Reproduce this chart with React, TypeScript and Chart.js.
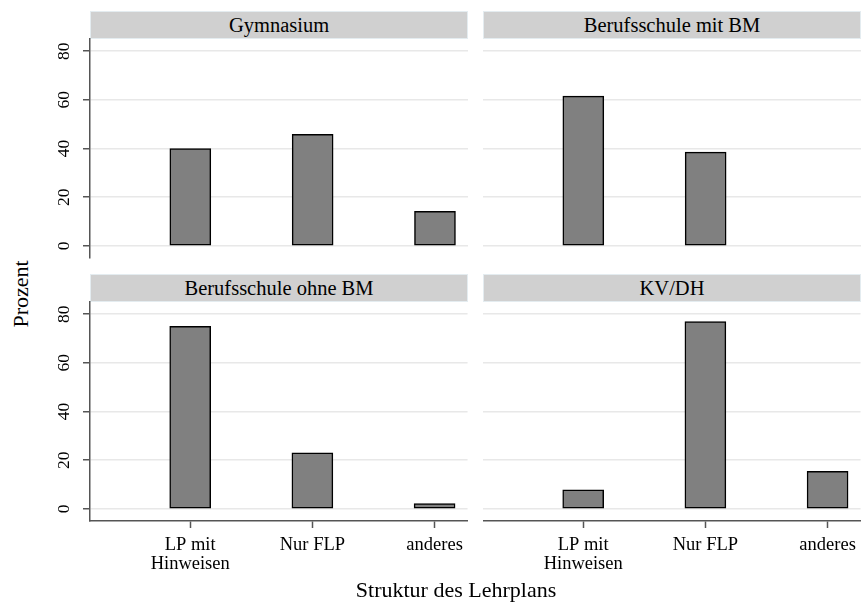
import React, { useEffect, useRef } from "react";
import { Chart, registerables } from "chart.js";

Chart.register(...registerables);

const categories: string[][] = [["LP mit", "Hinweisen"], ["Nur FLP"], ["anderes"]];
const panelTitles = ["Gymnasium", "Berufsschule mit BM", "Berufsschule ohne BM", "KV/DH"];
const gymnasium: (number | null)[] = [40, 45.8, 14.2];
const berufMitBM: (number | null)[] = [61.5, 38.5, null];
const berufOhneBM: (number | null)[] = [75, 23, 2.2];
const kvdh: (number | null)[] = [7.8, 77, 15.4];
const yTicks = [0, 20, 40, 60, 80];
const yTitle = "Prozent";
const xTitle = "Struktur des Lehrplans";

const FONT = '"Liberation Serif", "Times New Roman", serif';
const PAD = 26;

type PanelProps = {
  title: string;
  values: (number | null)[];
  showY: boolean;
  showX: boolean;
  left: number;
  top: number;
};

function Panel({ title, values, showY, showX, left, top }: PanelProps) {
  const ref = useRef<HTMLCanvasElement | null>(null);
  const canvasLeft = showY ? left - 50 : left;
  const canvasWidth = showY ? 430 : 380;
  const areaTop = top + 28;
  const canvasTop = areaTop - PAD;
  const canvasHeight = PAD + 219 + (showX ? 60 : PAD);

  useEffect(() => {
    if (!ref.current) return;
    const data = values
      .map((v, i) => (v == null ? null : { x: i + 1, y: v }))
      .filter((d) => d !== null) as { x: number; y: number }[];
    const chart = new Chart(ref.current, {
      type: "bar",
      data: {
        datasets: [
          {
            data: data as any,
            backgroundColor: "#808080",
            borderColor: "#000000",
            borderWidth: 1.5,
            borderSkipped: false,
            barThickness: 41,
          } as any,
        ],
      },
      options: {
        animation: false,
        responsive: false,
        maintainAspectRatio: false,
        events: [],
        layout: { padding: { top: PAD, bottom: showX ? 0 : PAD, left: 0, right: 2 } },
        plugins: {
          legend: { display: false },
          tooltip: { enabled: false },
          title: { display: false },
        },
        scales: {
          x: {
            type: "linear",
            min: 0.18,
            max: 3.27,
            offset: false,
            display: showX,
            afterBuildTicks: (s: any) => {
              s.ticks = categories.map((_, i) => ({ value: i + 1 }));
            },
            afterFit: (s: any) => {
              s.height = showX ? 60 : 0;
            },
            grid: {
              display: true,
              offset: false,
              drawOnChartArea: false,
              drawTicks: true,
              tickLength: 7,
              tickColor: "#555555",
              tickWidth: 1.5,
            },
            border: { display: true, color: "#555555", width: 1.5 },
            ticks: {
              autoSkip: false,
              maxRotation: 0,
              minRotation: 0,
              padding: 7,
              color: "#000000",
              font: { family: FONT, size: 18.5, lineHeight: 1.05 },
              callback: (_v: any, i: number) => categories[i],
            },
          } as any,
          y: {
            type: "linear",
            min: -5,
            max: 85,
            afterBuildTicks: (s: any) => {
              s.ticks = yTicks.map((v) => ({ value: v }));
            },
            afterFit: (s: any) => {
              s.width = showY ? 50 : 0;
            },
            grid: {
              color: "#e8e8e8",
              lineWidth: 1.5,
              drawTicks: showY,
              tickLength: 7,
              tickColor: "#555555",
              tickWidth: 1.5,
            },
            border: { display: showY, color: "#555555", width: 1.5 },
            ticks: {
              display: showY,
              minRotation: 90,
              maxRotation: 90,
              crossAlign: "center",
              padding: 10,
              color: "#000000",
              font: { family: FONT, size: 17.5 },
            },
          } as any,
        },
      },
    });
    return () => chart.destroy();
  }, [values, showX, showY]);

  return (
    <>
      <div
        style={{
          position: "absolute",
          left,
          top,
          width: 378,
          height: 28,
          boxSizing: "border-box",
          background: "#d0d0d0",
          border: "1px solid #e4ecf0",
          fontFamily: FONT,
          fontSize: 20.5,
          lineHeight: "26px",
          textAlign: "center",
          color: "#000",
        }}
      >
        {title}
      </div>
      <canvas
        ref={ref}
        width={canvasWidth}
        height={canvasHeight}
        style={{
          position: "absolute",
          left: canvasLeft,
          top: canvasTop,
          width: canvasWidth,
          height: canvasHeight,
        }}
      />
    </>
  );
}

export default function App() {
  return (
    <div
      style={{
        position: "fixed",
        left: 0,
        top: 0,
        width: 865,
        height: 608,
        background: "#ffffff",
        overflow: "hidden",
      }}
    >
      <Panel title={panelTitles[0]} values={gymnasium} showY={true} showX={false} left={90} top={11} />
      <Panel title={panelTitles[1]} values={berufMitBM} showY={false} showX={false} left={483} top={11} />
      <Panel title={panelTitles[2]} values={berufOhneBM} showY={true} showX={true} left={90} top={274} />
      <Panel title={panelTitles[3]} values={kvdh} showY={false} showX={true} left={483} top={274} />
      <div
        style={{
          position: "absolute",
          left: 21 - 60,
          top: 294 - 13,
          width: 120,
          height: 26,
          lineHeight: "26px",
          textAlign: "center",
          fontFamily: FONT,
          fontSize: 22,
          color: "#000",
          transform: "rotate(-90deg)",
        }}
      >
        {yTitle}
      </div>
      <div
        style={{
          position: "absolute",
          left: 456 - 150,
          top: 577,
          width: 300,
          height: 26,
          lineHeight: "26px",
          textAlign: "center",
          fontFamily: FONT,
          fontSize: 22,
          color: "#000",
        }}
      >
        {xTitle}
      </div>
    </div>
  );
}
